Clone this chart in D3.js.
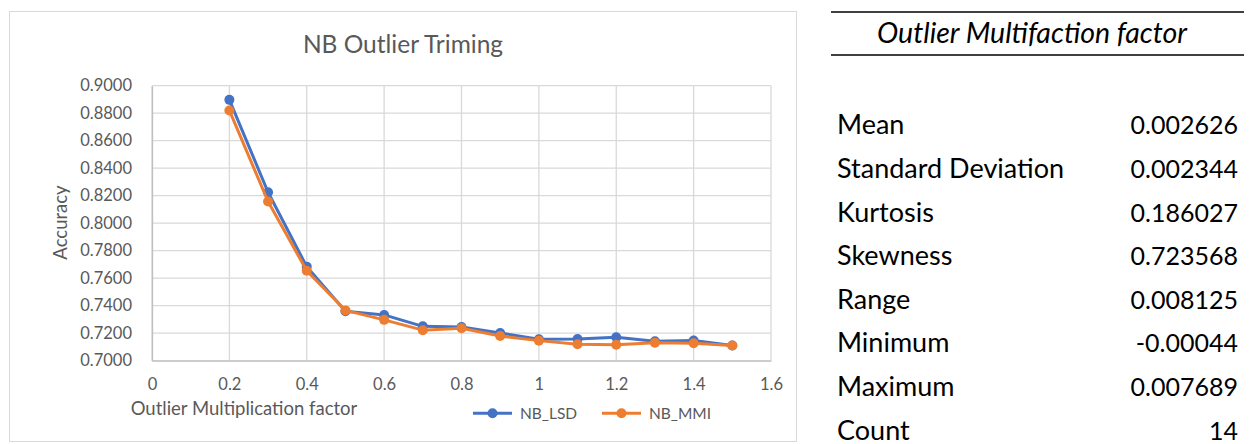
<!DOCTYPE html>
<html>
<head>
<meta charset="utf-8">
<script src="https://cdn.jsdelivr.net/npm/d3@7"></script>
<style>
  html, body { margin: 0; padding: 0; background: #fff; }
  svg { display: block; }
  text { font-family: Lato, "Open Sans", sans-serif; }
</style>
</head>
<body>
<svg id="chart" width="1250" height="444"></svg>
<script>
// ---------- data ----------
const factors = [0.2, 0.3, 0.4, 0.5, 0.6, 0.7, 0.8, 0.9, 1.0, 1.1, 1.2, 1.3, 1.4, 1.5];
const nbLSD  = [0.8897, 0.8225, 0.7684, 0.7360, 0.7333, 0.7250, 0.7245, 0.7202, 0.7156, 0.7158, 0.7170, 0.7141, 0.7147, 0.7111];
const nbMMI  = [0.8820, 0.8158, 0.7654, 0.7366, 0.7297, 0.7222, 0.7236, 0.7180, 0.7146, 0.7120, 0.7116, 0.7131, 0.7127, 0.7111];
const seriesNames = ["NB_LSD", "NB_MMI"];
const seriesColors = ["#4472C4", "#ED7D31"];
const xTicks = [0, 0.2, 0.4, 0.6, 0.8, 1.0, 1.2, 1.4, 1.6];
const yTicks = [0.70, 0.72, 0.74, 0.76, 0.78, 0.80, 0.82, 0.84, 0.86, 0.88, 0.90];
const chartTitle = "NB Outlier Triming";
const xTitle = "Outlier Multiplication factor";
const yTitle = "Accuracy";
const tableTitle = "Outlier Multifaction factor";
const statLabels = ["Mean", "Standard Deviation", "Kurtosis", "Skewness", "Range", "Minimum", "Maximum", "Count"];
const statValues = ["0.002626", "0.002344", "0.186027", "0.723568", "0.008125", "-0.00044", "0.007689", "14"];

// ---------- layout ----------
const svg = d3.select("#chart");
const plot = { left: 152, right: 771, top: 85.7, bottom: 360.7 };

// chart frame
svg.append("rect")
  .attr("x", 9.5).attr("y", 11.5).attr("width", 787).attr("height", 430)
  .attr("fill", "#fff").attr("stroke", "#D9D9D9").attr("stroke-width", 1);

const x = d3.scaleLinear().domain([0, 1.6]).range([plot.left, plot.right]);
const y = d3.scaleLinear().domain([0.70, 0.90]).range([plot.bottom, plot.top]);

// gridlines
const grid = svg.append("g");
grid.selectAll("line.h").data(yTicks).join("line")
  .attr("x1", plot.left).attr("x2", plot.right)
  .attr("y1", d => y(d)).attr("y2", d => y(d))
  .attr("stroke", "#D9D9D9").attr("stroke-width", 1.3);
grid.selectAll("line.v").data(xTicks).join("line")
  .attr("y1", plot.top).attr("y2", plot.bottom)
  .attr("x1", d => x(d)).attr("x2", d => x(d))
  .attr("stroke", "#D9D9D9").attr("stroke-width", 1.3);

// axes
const xAxis = svg.append("g")
  .attr("transform", `translate(0,${plot.bottom})`)
  .call(d3.axisBottom(x).tickValues(xTicks).tickSize(0).tickPadding(18)
    .tickFormat(d => d3.format("~g")(d)));
xAxis.select(".domain").attr("stroke", "#BFBFBF").attr("stroke-width", 1.3);
xAxis.selectAll("text").attr("fill", "#595959").style("font-size", "16.5px");

const yAxis = svg.append("g")
  .attr("transform", `translate(${plot.left},0)`)
  .call(d3.axisLeft(y).tickValues(yTicks).tickSize(0).tickPadding(20)
    .tickFormat(d3.format(".4f")));
yAxis.select(".domain").attr("stroke", "#BFBFBF").attr("stroke-width", 1.3);
yAxis.selectAll("text").attr("fill", "#595959").style("font-size", "16.5px");

// title
svg.append("text").attr("x", 403).attr("y", 53)
  .attr("text-anchor", "middle").attr("fill", "#595959")
  .style("font-size", "24.5px").text(chartTitle);

// axis titles
svg.append("text").attr("x", 244).attr("y", 415)
  .attr("text-anchor", "middle").attr("fill", "#595959")
  .style("font-size", "18.5px").text(xTitle);
svg.append("text")
  .attr("transform", "translate(67,222.5) rotate(-90)")
  .attr("text-anchor", "middle").attr("fill", "#595959")
  .style("font-size", "18.5px").text(yTitle);

// series
const seriesData = [nbLSD, nbMMI];
const line = d3.line().x(d => x(d[0])).y(d => y(d[1]));
seriesData.forEach((vals, i) => {
  const pts = factors.map((f, j) => [f, vals[j]]);
  const g = svg.append("g");
  g.append("path").datum(pts)
    .attr("d", line).attr("fill", "none")
    .attr("stroke", seriesColors[i]).attr("stroke-width", 3)
    .attr("stroke-linejoin", "round");
  g.selectAll("circle").data(pts).join("circle")
    .attr("cx", d => x(d[0])).attr("cy", d => y(d[1])).attr("r", 5)
    .attr("fill", seriesColors[i]);
});

// legend
const legendItems = [
  { name: seriesNames[0], color: seriesColors[0], x0: 473 },
  { name: seriesNames[1], color: seriesColors[1], x0: 602 }
];
const legendY = 413.3;
legendItems.forEach(it => {
  const g = svg.append("g");
  g.append("line").attr("x1", it.x0).attr("x2", it.x0 + 39)
    .attr("y1", legendY).attr("y2", legendY)
    .attr("stroke", it.color).attr("stroke-width", 3);
  g.append("circle").attr("cx", it.x0 + 19.5).attr("cy", legendY).attr("r", 5)
    .attr("fill", it.color);
  g.append("text").attr("x", it.x0 + 47).attr("y", legendY)
    .attr("dy", "0.35em").attr("fill", "#595959")
    .style("font-size", "15.5px").text(it.name);
});

// ---------- statistics table ----------
const tbl = svg.append("g");
tbl.append("line").attr("x1", 831).attr("x2", 1244).attr("y1", 12).attr("y2", 12)
  .attr("stroke", "#000").attr("stroke-width", 1.5);
tbl.append("line").attr("x1", 831).attr("x2", 1244).attr("y1", 55).attr("y2", 55)
  .attr("stroke", "#000").attr("stroke-width", 1.5);
tbl.append("text").attr("x", 1032).attr("y", 43)
  .attr("text-anchor", "middle").attr("fill", "#000")
  .style("font-size", "28.5px").style("font-style", "italic").text(tableTitle);

const rowY = d3.scalePoint().domain(statLabels).range([134.3, 439.5]);
tbl.selectAll("text.lab").data(statLabels).join("text")
  .attr("class", "lab")
  .attr("x", 837).attr("y", d => rowY(d))
  .attr("fill", "#000").style("font-size", "27px").text(d => d);
tbl.selectAll("text.val").data(statValues).join("text")
  .attr("class", "val")
  .attr("x", 1238).attr("y", (d, i) => rowY(statLabels[i]))
  .attr("text-anchor", "end")
  .attr("fill", "#000").style("font-size", "25px").text(d => d);
</script>
</body>
</html>
